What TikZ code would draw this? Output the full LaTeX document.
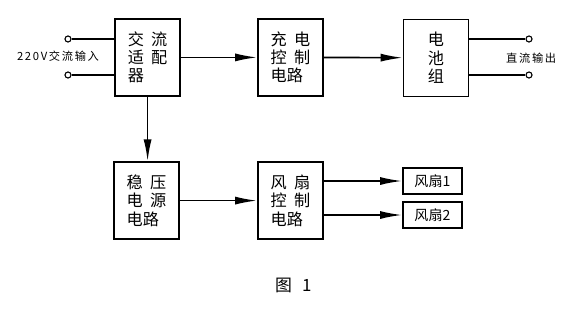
\documentclass[tikz,border=0pt]{standalone}
\usepackage{fontspec}
\setmainfont{Noto Sans CJK SC}
\usetikzlibrary{positioning,arrows.meta}
\tikzset{
  blk/.style    = {draw=black, line width=1.1pt, minimum width=1.625cm, minimum height=1.925cm, inner sep=0pt, align=left, font=\fontsize{11.5}{13}\selectfont},
  fanbox/.style = {draw=black, line width=1.1pt, minimum width=1.475cm, minimum height=0.65cm, inner sep=0pt, font=\fontsize{10}{12}\selectfont},
  term/.style   = {circle, draw=black, line width=0.8pt, fill=white, inner sep=0pt, minimum size=0.15cm},
  lbl/.style    = {font=\fontsize{8}{10}\selectfont\addfontfeature{LetterSpace=15}, inner sep=0pt},
  figcap/.style = {font=\fontsize{12}{14}\selectfont, inner sep=0pt},
  wire/.style   = {draw=black, line width=1.2pt},
  flow/.style   = {draw=black, line width=1.2pt, -{Latex[length=5.5mm, width=2mm]}},
}
\newcommand{\gap}{\hspace{0.45em}}

\begin{document}
\begin{tikzpicture}[x=1cm,y=1cm]
  \useasboundingbox (0,0) rectangle (14.3,7.725);

  % upper row
  \node[blk] (adapter) at (3.69,6.29) {交\gap 流\\适\gap 配\\器};
  \node[blk] (charge)  at (7.26,6.29) {充\gap 电\\控\gap 制\\电路};
  \node[blk, align=center] (battery) at (10.9,6.28) {电\\池\\组};

  % lower row
  \node[blk] (stab)   at (3.66,2.71) {稳\gap 压\\电\gap 源\\电路};
  \node[blk] (fanctl) at (7.26,2.71) {风\gap 扇\\控\gap 制\\电路};
  \node[fanbox] (fan1) at (10.81,3.2)  {风扇1};
  \node[fanbox] (fan2) at (10.81,2.35) {风扇2};

  % terminals
  \node[term] (inA)  at (1.7,6.75)   {};
  \node[term] (inB)  at (1.7,5.85)   {};
  \node[term] (outA) at (13.225,6.75) {};
  \node[term] (outB) at (13.225,5.85) {};
  \node[lbl] (inlbl)  at (1.45,6.33)   {220V交流输入};
  \node[lbl] (outlbl) at (13.28,6.28)  {直流输出};

  \draw[wire] (inA) -- (inA -| adapter.west);
  \draw[wire] (inB) -- (inB -| adapter.west);
  \draw[wire] (outA -| battery.east) -- (outA);
  \draw[wire] (outB -| battery.east) -- (outB);

  % connections
  \draw[flow] (adapter) -- (charge);
  \draw[flow] (charge) -- (battery);
  \draw[flow] (adapter) -- (adapter |- stab.north);
  \draw[flow] (stab) -- (fanctl);
  \draw[flow] (fanctl.east |- fan1) -- (fan1);
  \draw[flow] (fanctl.east |- fan2) -- (fan2);

  \node[figcap] (caption) at (7.33,0.6) {图\hspace{0.6em}1};
\end{tikzpicture}
\end{document}
